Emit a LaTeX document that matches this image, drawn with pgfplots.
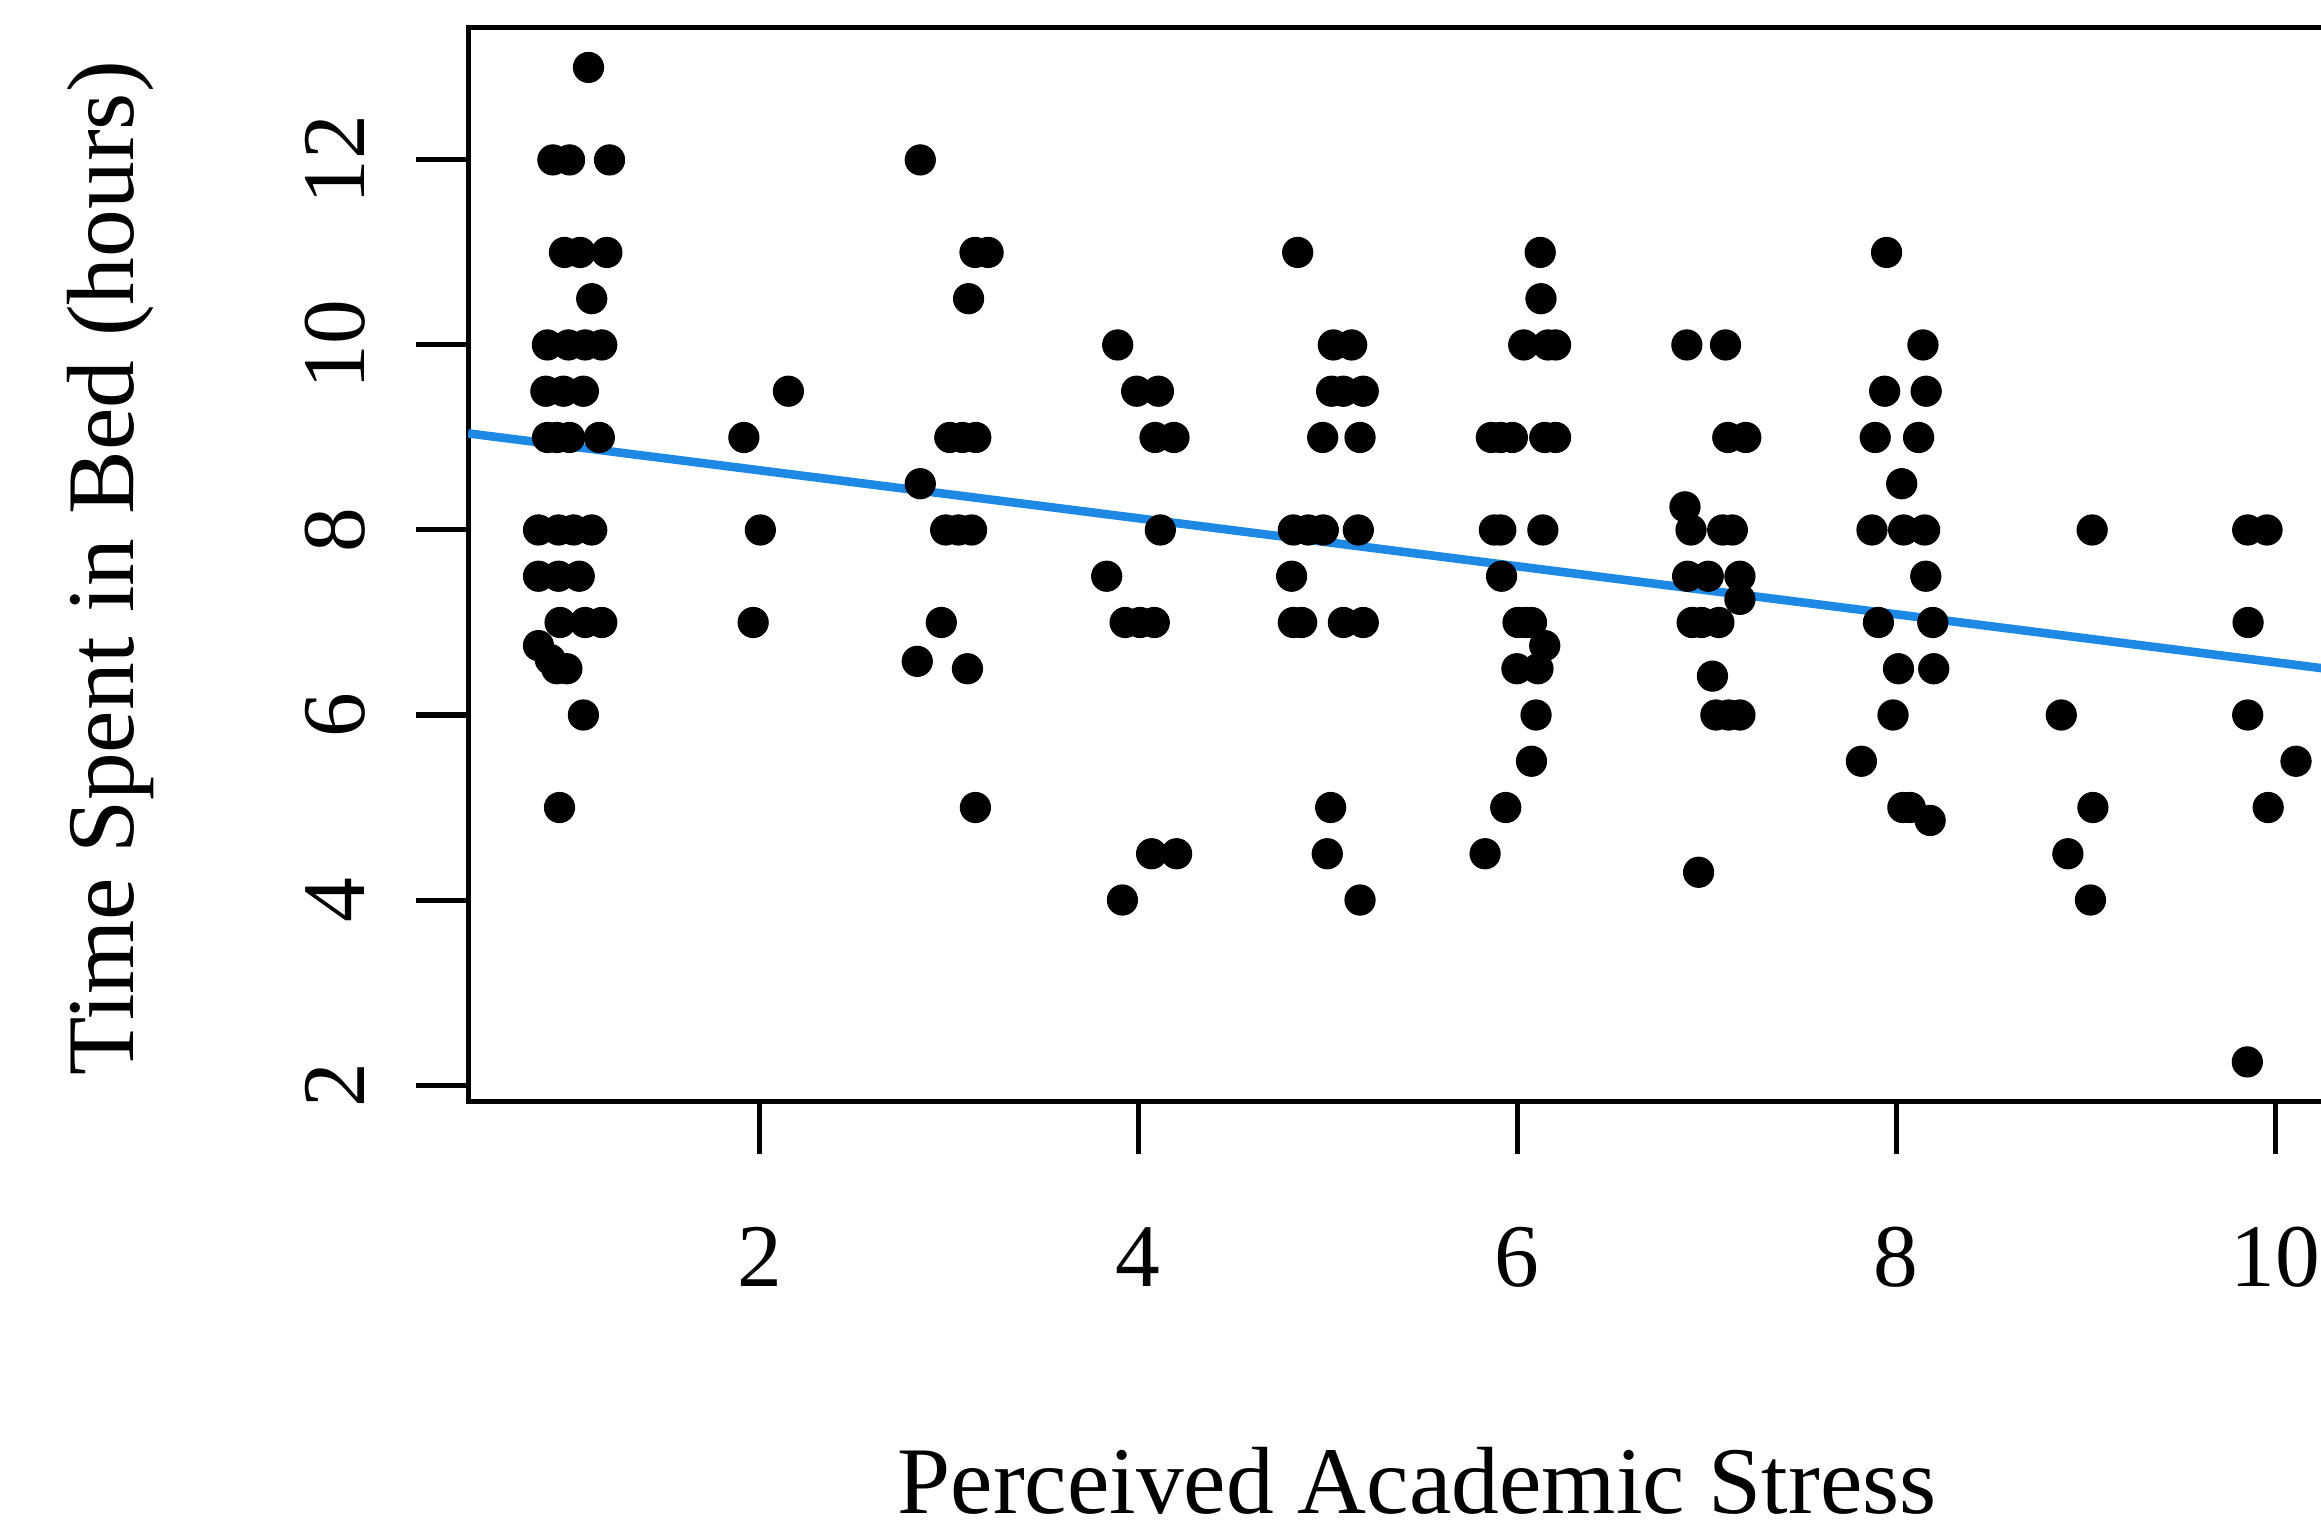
\documentclass[border=0pt]{standalone}
\usepackage{fontspec}
\setmainfont{Liberation Serif}
\usepackage{pgfplots}
\usepackage{pgfplotstable}
\pgfplotsset{compat=1.18}
\definecolor{lineblue}{RGB}{30,136,229}
\pgfplotstableread{
x y
1.098 13
0.910 12
0.998 12
1.209 12
0.971 11
1.054 11
1.195 11
1.115 10.5
0.881 10
0.992 10
1.080 10
1.168 10
0.873 9.5
0.966 9.5
1.071 9.5
0.882 9
0.931 9
0.998 9
1.155 9
0.834 8
0.940 8
1.019 8
1.115 8
0.834 7.5
0.940 7.5
1.049 7.5
0.948 7
1.080 7
1.168 7
0.834 6.75
0.896 6.6
0.931 6.5
0.984 6.5
1.071 6
0.945 5
1.918 9
2.153 9.5
2.005 8
1.967 7
2.849 12
3.138 11
3.207 11
3.104 10.5
3.005 9
3.072 9
3.142 9
2.849 8.5
2.983 8
3.051 8
3.120 8
2.960 7
2.833 6.58
3.098 6.5
3.140 5
3.891 10
3.991 9.5
4.106 9.5
4.088 9
4.188 9
4.116 8
3.833 7.5
3.930 7
4.009 7
4.084 7
4.070 4.5
4.202 4.5
3.916 4
4.841 11
5.029 10
5.126 10
5.020 9.5
5.082 9.5
5.187 9.5
4.973 9
5.170 9
4.818 8
4.897 8
4.976 8
5.161 8
4.809 7.5
4.818 7
4.862 7
5.082 7
5.187 7
5.015 5
4.997 4.5
5.170 4
6.121 11
6.125 10.5
6.034 10
6.162 10
6.202 10
5.863 9
5.913 9
5.974 9
6.145 9
6.202 9
5.879 8
5.913 8
6.135 8
5.917 7.5
6.004 7
6.044 7
6.075 7
6.145 6.75
5.998 6.5
6.109 6.5
6.099 6
6.075 5.5
5.939 5
5.830 4.5
6.895 10
7.099 10
7.111 9
7.206 9
6.885 8.25
6.917 8
7.084 8
7.135 8
6.899 7.5
7.008 7.5
7.175 7.5
7.175 7.25
6.923 7
6.973 7
7.064 7
7.030 6.42
7.048 6
7.115 6
7.175 6
6.957 4.3
7.949 11
8.141 10
7.939 9.5
8.158 9.5
7.889 9
8.118 9
8.029 8.5
7.872 8
8.039 8
8.150 8
8.156 7.5
7.906 7
8.193 7
8.012 6.5
8.198 6.5
7.983 6
7.816 5.5
8.035 5
8.074 5
8.179 4.86
9.034 8
8.871 6
9.038 5
8.906 4.5
9.025 4
9.855 8
9.957 8
9.857 7
9.855 6
10.110 5.5
9.963 5
9.853 2.25
}\stressdata
\begin{document}
\begin{tikzpicture}
\useasboundingbox (-3.163,-2.8475) rectangle (12.517,7.4425);
\clip (-3.163,-2.8475) rectangle (12.517,7.4425);
\begin{axis}[
  scale only axis, width=12.823cm, height=7.256cm,
  at={(0,0)}, anchor=south west,
  xmin=0.463, xmax=10.481, ymin=1.82, ymax=13.43,
  xtick={2,4,6,8,10}, ytick={2,4,6,8,10,12},
  xtick pos=left, ytick pos=left,
  tick align=outside, major tick length=0.35cm,
  axis line style={line width=0.97pt},
  every tick/.style={line width=0.97pt, black},
  /pgf/number format/assume math mode=true,
  tick label style={font=\fontsize{17.2}{20}\selectfont, inner sep=0pt},
  xticklabel style={anchor=base, yshift=-0.90cm},
  yticklabel style={xshift=-0.353cm, rotate=90, anchor=base},
  label style={font=\fontsize{18.35}{22}\selectfont, inner sep=0pt},
  xlabel={Perceived Academic Stress},
  ylabel={Time Spent in Bed (hours)},
  xlabel style={at={(axis description cs:0.5,0)}, yshift=-2.78cm, anchor=base},
  ylabel style={at={(axis description cs:-0.17609,0.4964)}, anchor=base},
  clip=true,
]
\addplot[only marks, mark=*, mark size=2.9pt, mark options={fill=black, draw=black, line width=0.2pt}] table[x=x, y=y] {\stressdata};
\addplot[color=lineblue, line width=1.65pt] coordinates {(0.463,9.044) (10.481,6.445)};
\end{axis}
\end{tikzpicture}
\end{document}
